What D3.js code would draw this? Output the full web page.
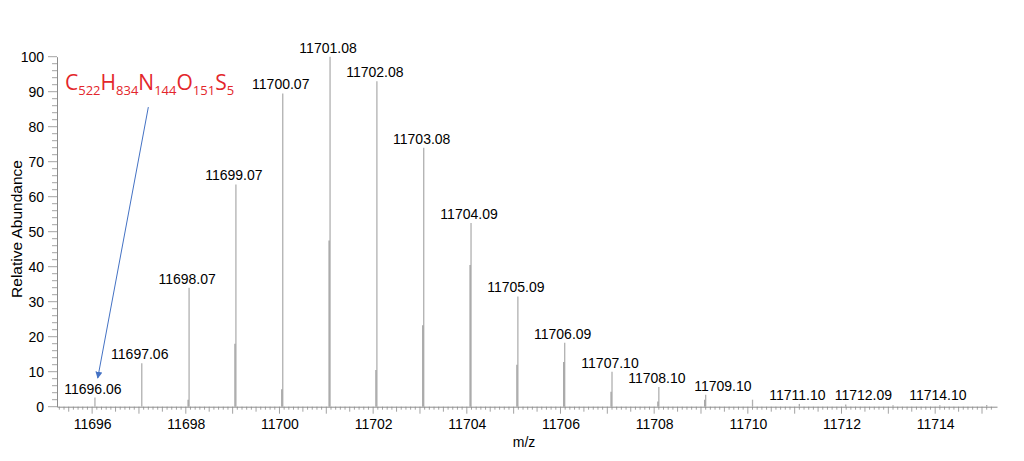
<!DOCTYPE html>
<html>
<head>
<meta charset="utf-8">
<script src="https://cdn.jsdelivr.net/npm/d3@7"></script>
<style>
  body { margin: 0; background: #fff; }
  svg text { font-family: "Liberation Sans", Arial, sans-serif; }
</style>
</head>
<body>
<script>
// picos principales (m/z etiquetado y altura relativa)
let picos = [11696.06, 11697.06, 11698.07, 11699.07, 11700.07, 11701.08, 11702.08, 11703.08, 11704.09,
    11705.09, 11706.09, 11707.10, 11708.10, 11709.10, 11710.10, 11711.10, 11712.09, 11713.10, 11714.10, 11715.10];
let alturas = [2.6, 12.4, 34, 63.5, 89.5, 100, 93, 74, 52.5, 31.5, 18.3, 10, 5.6, 3.4, 2, 0.8, 0.6, 0.4, 0.4, 0.5];
// que picos llevan etiqueta
let etiquetas = ["11696.06", "11697.06", "11698.07", "11699.07", "11700.07", "11701.08", "11702.08", "11703.08",
    "11704.09", "11705.09", "11706.09", "11707.10", "11708.10", "11709.10", "", "11711.10", "11712.09", "", "11714.10", ""];
// picos secundarios, pegados a la izquierda del principal
let picos2 = [11698.05, 11699.05, 11700.05, 11701.06, 11702.06, 11703.06, 11704.07, 11705.07, 11706.07, 11707.08, 11708.08, 11709.08];
let alturas2 = [2, 18, 5, 47.5, 10.5, 23.3, 40.5, 12, 12.8, 4.3, 1.5, 2];

let yTicks = [0, 10, 20, 30, 40, 50, 60, 70, 80, 90, 100];
let xTicks = [11696, 11698, 11700, 11702, 11704, 11706, 11708, 11710, 11712, 11714];

// anotacion de la formula: flecha de (11697.2, 85.6) a (11696.12, 8.2)
let flecha = [[11697.2, 85.6], [11696.12, 8.2]];

let w = 1024, h = 461;

let x = d3.scaleLinear().domain([11695.25, 11715.32]).range([57, 997]);
let y = d3.scaleLinear().domain([0, 100]).range([406.7, 56.7]);

let svg = d3.select('body').append('svg')
    .attr('width', w)
    .attr('height', h);

// ticks menores del eje x cada 0.1
let menores = d3.range(11695.3, 11715.3, 0.1).map(d => Math.round(d * 10) / 10);
svg.append('g').selectAll('line')
    .data(menores)
    .enter().append('line')
    .attr('x1', d => x(d)).attr('x2', d => x(d))
    .attr('y1', y(0))
    .attr('y2', d => {
        let f = Math.abs(d - Math.round(d));
        if (f < 0.01) return y(0) + 7;
        if (Math.abs(f - 0.5) < 0.01) return y(0) + 5;
        return y(0) + 3;
    })
    .attr('stroke', '#8c8c8c')
    .attr('stroke-width', 0.8);

// eje x
let ejeX = svg.append('g')
    .attr('transform', `translate(0,${y(0)})`)
    .call(d3.axisBottom(x).tickValues(xTicks).tickFormat(d3.format('d')).tickSize(0).tickPadding(12));
ejeX.select('.domain').attr('stroke', '#8c8c8c');
ejeX.selectAll('text').attr('font-size', 14).attr('fill', '#000')
    .attr('font-family', '"Liberation Sans", Arial, sans-serif');

// ticks menores del eje y cada 2
svg.append('g').selectAll('line')
    .data(d3.range(0, 101, 2))
    .enter().append('line')
    .attr('y1', d => y(d)).attr('y2', d => y(d))
    .attr('x1', 57)
    .attr('x2', d => d % 10 === 0 ? 48 : 52)
    .attr('stroke', '#8c8c8c')
    .attr('stroke-width', 0.8);

let ejeY = svg.append('g')
    .attr('transform', 'translate(57,0)')
    .call(d3.axisLeft(y).tickValues(yTicks).tickSize(0).tickPadding(13));
ejeY.select('.domain').attr('stroke', '#8c8c8c');
ejeY.selectAll('text').attr('font-size', 14).attr('fill', '#000')
    .attr('font-family', '"Liberation Sans", Arial, sans-serif');

// titulos de ejes
svg.append('text')
    .attr('x', 524).attr('y', 447)
    .attr('text-anchor', 'middle')
    .attr('font-size', 14)
    .text('m/z');

svg.append('text')
    .attr('transform', 'translate(22,229) rotate(-90)')
    .attr('text-anchor', 'middle')
    .attr('font-size', 15.5)
    .text('Relative Abundance');

// picos principales
svg.append('g').selectAll('line')
    .data(picos)
    .enter().append('line')
    .attr('x1', d => x(d)).attr('x2', d => x(d))
    .attr('y1', y(0))
    .attr('y2', (d, i) => y(alturas[i]))
    .attr('stroke', '#b0b0b0')
    .attr('stroke-width', 1.3);

// picos secundarios
svg.append('g').selectAll('line')
    .data(picos2)
    .enter().append('line')
    .attr('x1', d => x(d)).attr('x2', d => x(d))
    .attr('y1', y(0))
    .attr('y2', (d, i) => y(alturas2[i]))
    .attr('stroke', '#a0a0a0')
    .attr('stroke-width', 1.3);

// etiquetas de picos: se empujan a la derecha si chocan con la anterior
let anchoEtiqueta = 58;
let prev = null;
let posEtiquetas = picos.map((d, i) => {
    if (!etiquetas[i]) return null;
    let cx = x(d) - 2;
    let cy = Math.min(y(alturas[i]) - 4, 400);
    if (prev && Math.abs(cy - prev.cy) < 14 && cx - anchoEtiqueta / 2 < prev.cx + anchoEtiqueta / 2 + 8) {
        cx = prev.cx + anchoEtiqueta + 8;
    }
    prev = { cx: cx, cy: cy };
    return prev;
});

svg.append('g').selectAll('text')
    .data(picos)
    .enter().append('text')
    .filter((d, i) => etiquetas[i])
    .attr('x', (d, i) => posEtiquetas[picos.indexOf(d)].cx)
    .attr('y', (d, i) => posEtiquetas[picos.indexOf(d)].cy)
    .attr('text-anchor', 'middle')
    .attr('font-size', 14)
    .attr('fill', '#000')
    .text(d => etiquetas[picos.indexOf(d)]);

// formula
let formula = svg.append('text')
    .attr('x', 65).attr('y', 90)
    .attr('fill', '#e3262b')
    .style('font-family', '"Open Sans", "Noto Sans", sans-serif')
    .attr('font-size', 21);
[['C', '522'], ['H', '834'], ['N', '144'], ['O', '151'], ['S', '5']].forEach((p, i) => {
    formula.append('tspan').attr('dy', i === 0 ? 0 : -5).text(p[0]);
    formula.append('tspan').attr('font-size', 13).attr('dy', 5).text(p[1]);
});

// flecha
svg.append('defs').append('marker')
    .attr('id', 'punta')
    .attr('viewBox', '0 0 10 10')
    .attr('refX', 9).attr('refY', 5)
    .attr('markerWidth', 7).attr('markerHeight', 7)
    .attr('orient', 'auto')
    .append('path')
    .attr('d', 'M0,0 L10,5 L0,10 z')
    .attr('fill', '#4472c4');

svg.append('line')
    .attr('x1', x(flecha[0][0])).attr('y1', y(flecha[0][1]))
    .attr('x2', x(flecha[1][0])).attr('y2', y(flecha[1][1]))
    .attr('stroke', '#4472c4')
    .attr('stroke-width', 1)
    .attr('marker-end', 'url(#punta)');
</script>
</body>
</html>
